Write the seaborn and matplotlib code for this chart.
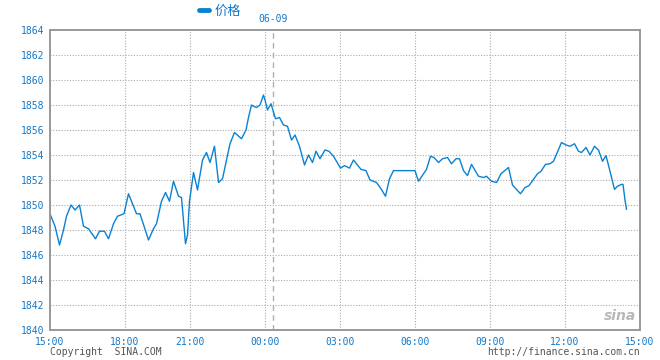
import numpy as np
import pandas as pd
import matplotlib
matplotlib.use('Agg')
import matplotlib.pyplot as plt
import seaborn as sns
from matplotlib.lines import Line2D

# x positions are slots on the chart's time axis (15:00 -> 0, next day 15:00 -> 118)
pos = [0, 1, 1.9, 2.7, 3.3, 4.2, 5.0, 5.9, 6.7, 7.7, 9.1, 9.9, 10.9, 11.7, 12.7, 13.5,
       14.8, 15.7, 16.5, 17.3, 18.0, 19.7, 20.7, 21.3, 22.3, 23.1, 23.9, 24.7, 25.7,
       26.3, 27.1, 27.5, 27.9, 28.7, 29.5, 30.5, 31.3, 32.0, 32.9, 33.7, 34.5, 36.0,
       36.9, 38.3, 39.2, 39.7, 40.3, 40.7, 41.3, 42.0, 42.7, 43.0, 43.5, 44.2, 44.5,
       45.1, 45.9, 46.7, 47.5, 48.3, 49.0, 49.9, 50.9, 51.7, 52.5, 53.2, 54.0, 55.0,
       55.8, 56.7, 58.1, 58.9, 59.9, 60.7, 61.3, 62.2, 63.2, 64.0, 65.3, 66.2, 67.1,
       67.9, 68.7, 73.0, 73.7, 75.3, 76.1, 76.8, 77.7, 78.5, 79.5, 80.3, 81.2, 81.9,
       82.7, 83.5, 84.3, 85.7, 86.7, 87.3, 88.3, 89.3, 90.2, 91.7, 92.5, 94.1, 95.0,
       95.8, 97.5, 98.2, 99.1, 100.0, 100.7, 102.3, 103.2, 104.0, 104.9, 105.7, 106.3,
       107.2, 108.0, 108.9, 109.7, 110.5, 111.2, 112.0, 112.9, 113.5, 114.3, 114.6,
       115.0, 115.3]
price = [1849.3, 1848.3, 1846.8, 1848.0, 1849.1, 1850.0, 1849.6, 1850.0, 1848.3, 1848.1,
         1847.3, 1847.9, 1847.9, 1847.3, 1848.5, 1849.1, 1849.3, 1850.9, 1850.1, 1849.3,
         1849.3, 1847.2, 1848.1, 1848.5, 1850.3, 1851.0, 1850.3, 1851.9, 1850.7, 1850.6,
         1846.9, 1847.6, 1850.3, 1852.6, 1851.2, 1853.6, 1854.2, 1853.4, 1854.7, 1851.8,
         1852.1, 1854.9, 1855.8, 1855.3, 1856.0, 1857.0, 1858.0, 1857.9, 1857.8, 1858.0,
         1858.8, 1858.4, 1857.6, 1858.1, 1857.7, 1856.9, 1857.0, 1856.4, 1856.3, 1855.2,
         1855.6, 1854.7, 1853.2, 1854.0, 1853.4, 1854.3, 1853.7, 1854.4, 1854.3, 1853.9,
         1852.95, 1853.15, 1852.95, 1853.6, 1853.3, 1852.85, 1852.75, 1852.0, 1851.8,
         1851.3, 1850.7, 1852.1, 1852.75, 1852.75, 1851.9, 1852.85, 1853.9, 1853.8,
         1853.4, 1853.7, 1853.8, 1853.3, 1853.7, 1853.7, 1852.75, 1852.35, 1853.25,
         1852.3, 1852.2, 1852.3, 1851.9, 1851.8, 1852.5, 1853.0, 1851.6, 1850.9, 1851.4,
         1851.55, 1852.5, 1852.7, 1853.25, 1853.3, 1853.5, 1855.0, 1854.8, 1854.7, 1854.9,
         1854.3, 1854.2, 1854.6, 1854.0, 1854.7, 1854.4, 1853.5, 1853.95, 1852.7, 1851.25,
         1851.5, 1851.65, 1851.65, 1850.4, 1849.65]

x_tick_pos = [0, 15, 28, 43, 58, 73, 88, 103, 118]
x_tick_labels = ['15:00', '18:00', '21:00', '00:00', '03:00', '06:00', '09:00', '12:00', '15:00']
y_ticks = list(range(1840, 1866, 2))
date_mark = 44.6
date_label = '06-09'

blue = '#0a82d2'
text_blue = '#1478c8'
grid_gray = '#aaaaaa'

df = pd.DataFrame({'pos': pos, 'price': price})

sns.set_style('white')
plt.rcParams['font.family'] = ['DejaVu Sans Mono', 'Noto Sans CJK SC']

fig = plt.figure(figsize=(6.6, 3.6), dpi=100)
ax = fig.add_axes([50 / 660, 30 / 360, 590 / 660, 300 / 360])

sns.lineplot(data=df, x='pos', y='price', ax=ax, color=blue, linewidth=1.0)

ax.set_xlim(0, 118)
ax.set_ylim(1840, 1864)
ax.set_xticks(x_tick_pos)
ax.set_xticklabels(x_tick_labels)
ax.set_yticks(y_ticks)
ax.set_xlabel('')
ax.set_ylabel('')
ax.tick_params(length=0, labelsize=7, labelcolor=text_blue)
ax.tick_params(axis='y', pad=4)
ax.tick_params(axis='x', pad=5)

for y in y_ticks[1:-1]:
    ax.axhline(y, color=grid_gray, linestyle=(0, (1, 1.5)), linewidth=0.8, zorder=0)
for x in x_tick_pos[1:-1]:
    ax.axvline(x, color=grid_gray, linestyle=(0, (1, 1.5)), linewidth=0.8, zorder=0)
ax.axvline(date_mark, color='#b0b0b0', linestyle=(0, (4, 3)), linewidth=1.0, zorder=0)

for s in ax.spines.values():
    s.set_color('#999999')
    s.set_linewidth(1.4)

# legend + date label
handle = Line2D([0], [0], color=blue, linewidth=3.5)
fig.legend([handle], ['价格'], loc='center left', bbox_to_anchor=(199 / 660, 1 - 11 / 360),
           frameon=False, handlelength=0.75, handletextpad=0.45, borderaxespad=0, borderpad=0,
           prop={'family': ['Noto Sans CJK SC'], 'size': 9.5}, labelcolor=text_blue)
ax.text(date_mark, 1864.45, date_label, ha='center', va='bottom', fontsize=7, color=text_blue)

fig.text(50 / 660, 1 - 352 / 360, 'Copyright  SINA.COM', fontsize=7, color='#555555',
         ha='left', va='center')
fig.text(640 / 660, 1 - 352 / 360, 'http://finance.sina.com.cn', fontsize=7, color='#555555',
         ha='right', va='center')
fig.text(620 / 660, 1 - 316 / 360, 'sina', fontsize=10, color='#9a9a9a', alpha=0.7,
         fontstyle='italic', fontweight='bold', family='DejaVu Sans', ha='center', va='center')

fig.savefig('out.png', dpi=100)
